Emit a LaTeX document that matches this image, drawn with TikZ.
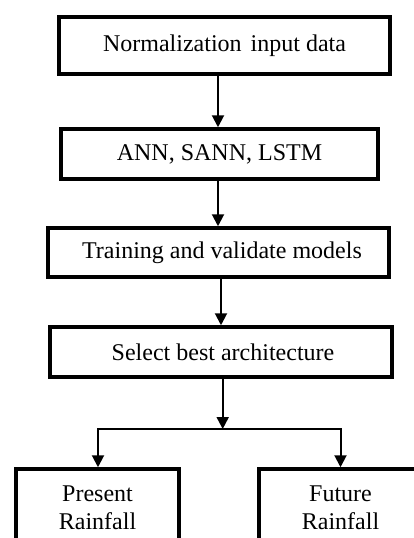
\documentclass[tikz,border=0pt]{standalone}
\usepackage{fontspec}
\setmainfont{Liberation Serif}
\usetikzlibrary{arrows.meta}
\begin{document}
\begin{tikzpicture}[x=1pt,y=-1pt,
  box/.style={draw,line width=3.5pt,rectangle,inner sep=0pt,align=center,
    font=\fontsize{24}{28}\selectfont},
  arr/.style={line width=2pt,-{Triangle[width=12pt,length=12pt]}}]
\useasboundingbox (0,0) rectangle (414,538);
\clip (0,0) rectangle (414,538);
\node[box,minimum width=331pt,minimum height=57pt] (b1) at (224.5,45.5) {\raisebox{4pt}{Normalization\hspace{3pt} input data}};
\node[box,minimum width=317pt,minimum height=50pt] (b2) at (219.5,154) {ANN, SANN, LSTM};
\node[box,minimum width=341pt,minimum height=49pt] (b3) at (218.5,252.5) {\hspace*{7pt}Training and validate models};
\node[box,minimum width=342pt,minimum height=50pt] (b4) at (221,352) {\hspace*{4pt}Select best architecture};
\node[box,minimum width=163pt,minimum height=78pt] (b5) at (97.5,508) {Present\\Rainfall};
\node[box,minimum width=163pt,minimum height=78pt] (b6) at (340.5,508) {Future\\Rainfall};
\coordinate (split) at (222.7,429);
\draw[arr] ([xshift=-6.5pt]b1.south) -- ([xshift=-1.5pt]b2.north);
\draw[arr] ([xshift=-1.5pt]b2.south) -- ([xshift=-0.5pt]b3.north);
\draw[arr] ([xshift=2.5pt]b3.south) -- (b4.north);
\draw[arr] ([xshift=1.7pt]b4.south) -- (split);
\draw[arr] (split) -| ([xshift=0.5pt]b5.north);
\draw[arr] (split) -| (b6.north);
\end{tikzpicture}
\end{document}
